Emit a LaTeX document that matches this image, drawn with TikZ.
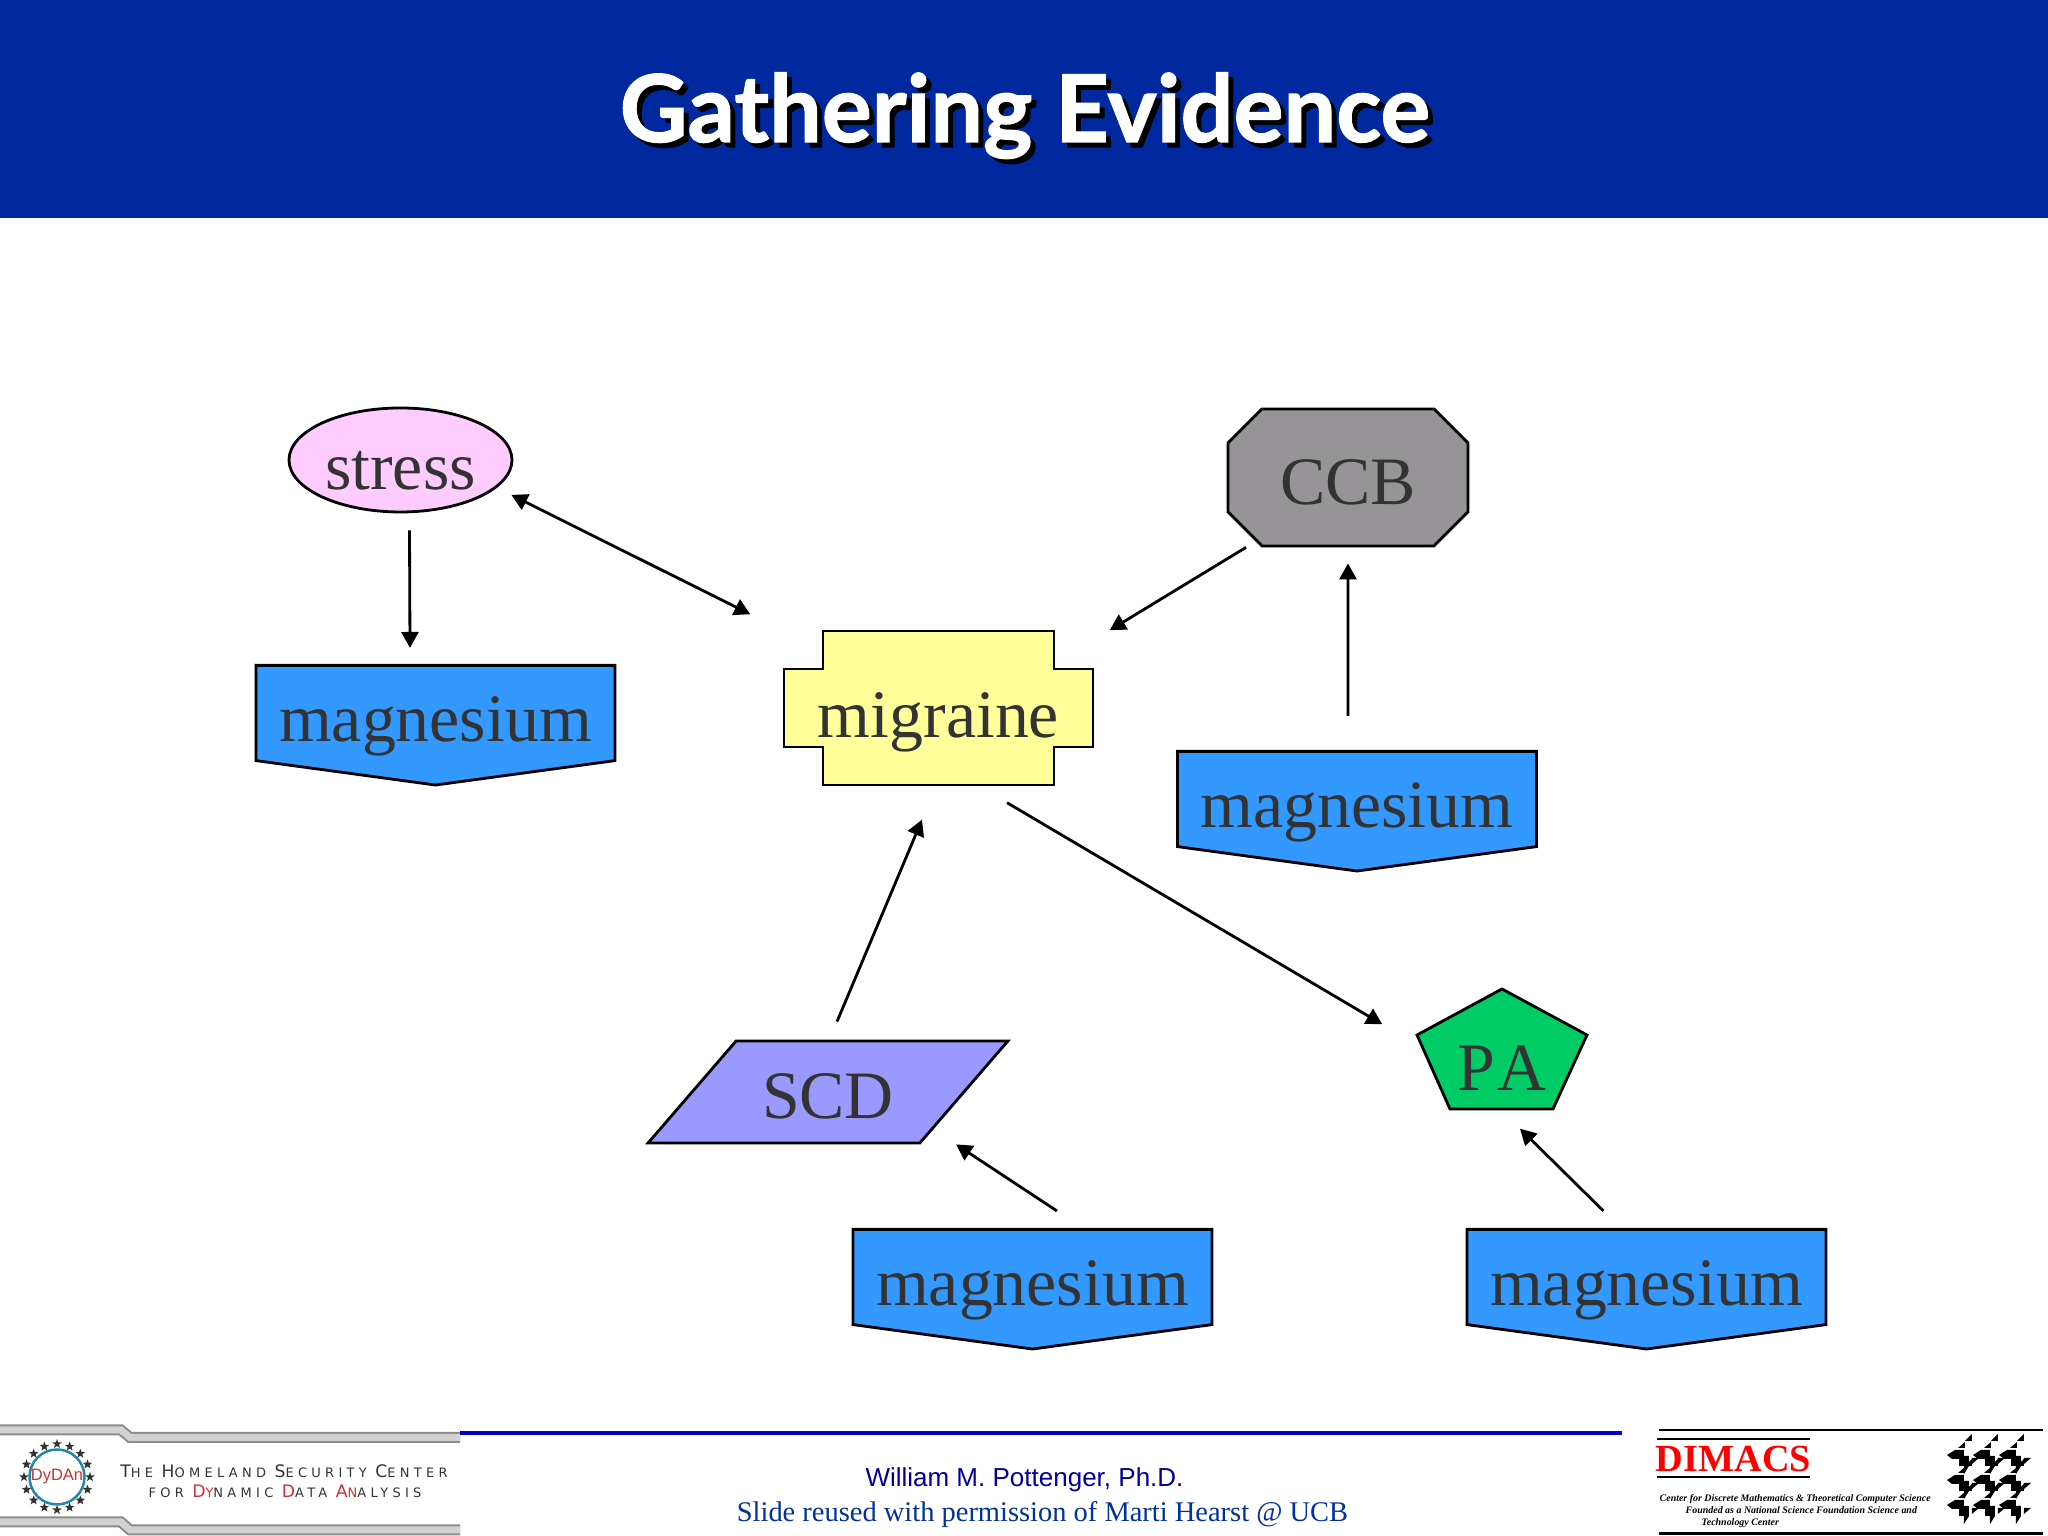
\documentclass[tikz,border=0pt]{standalone}
\usepackage{fontspec}
\setmainfont{Liberation Serif}
\setsansfont{Liberation Sans}
\newfontfamily\titlefont[FakeBold=1.2]{Lato}
\newfontfamily\logofont[LetterSpace=33]{DejaVu Sans}
\usepackage{tikz}
\usetikzlibrary{shapes.geometric, shapes.misc, shapes.symbols, arrows.meta, positioning, calc}
\definecolor{HeaderBlue}{HTML}{0029A0}
\definecolor{MagBlue}{HTML}{3399FF}
\definecolor{StressPink}{HTML}{FFCCFF}
\definecolor{MigraineYellow}{HTML}{FFFF99}
\definecolor{CcbGray}{HTML}{969496}
\definecolor{ScdLilac}{HTML}{9999FF}
\definecolor{PaGreen}{HTML}{00CC66}
\definecolor{LabelGray}{HTML}{333333}
\definecolor{FooterBlue}{HTML}{000099}
\definecolor{SlideBlue}{HTML}{003399}
\definecolor{LineBlue}{HTML}{0000CC}
\definecolor{DydanRed}{HTML}{CC3333}
\definecolor{DydanTeal}{HTML}{2288AA}
\newcommand{\titleshadow}[1]{\makebox[0pt][l]{\hspace{.05cm}\raisebox{-.05cm}{\color{black}#1}}#1}
\newcommand{\bigc}[1]{{\fontsize{4.9}{5.5}\selectfont #1}}
\tikzset{
  label font/.style={font=\fontsize{19.3}{22}\selectfont, text=LabelGray, inner sep=0pt},
  shapeline/.style={draw=black, line width=0.8pt},
  magbox/.style={signal, signal to=south, signal from=nowhere, signal pointer angle=164.5, shapeline, fill=MagBlue, label font, minimum width=3.59cm, minimum height=1.165cm, anchor=north, text height=.615cm, text depth=.035cm},
  stressnode/.style={ellipse, shapeline, fill=StressPink, label font, minimum width=2.23cm, minimum height=1.04cm, text height=.59cm, text depth=0pt},
  ccbnode/.style={chamfered rectangle, chamfered rectangle xsep=.17cm, chamfered rectangle ysep=.17cm, shapeline, fill=CcbGray, label font, minimum width=2.4cm, minimum height=1.37cm, text height=.55cm, text depth=0pt},
  scdnode/.style={trapezium, trapezium left angle=40.5, trapezium right angle=139.5, trapezium stretches=true, shapeline, fill=ScdLilac, label font, minimum width=3.6cm, minimum height=1.02cm, text height=.54cm, text depth=0pt},
  arrow/.style={-{Triangle[length=.16cm,width=.17cm]}, line width=0.8pt, black},
  bothways/.style={{Triangle[length=.16cm,width=.17cm]}-{Triangle[length=.16cm,width=.17cm]}, line width=0.8pt, black},
  band/.style={draw=gray!90, line width=.02cm, double=gray!35, double distance=.07cm},
  smalltext/.style={font=\fontsize{2.83}{3.4}\selectfont\bfseries\itshape, anchor=base west, inner sep=0pt}
}

\begin{document}
\begin{tikzpicture}
  \useasboundingbox (0,0) rectangle (20.48,15.36);
  \fill[white] (0,0) rectangle (20.48,15.36);

  % header
  \fill[HeaderBlue] (0,13.18) rectangle (20.48,15.36);
  \node[anchor=base, inner sep=0pt, text=white, font=\titlefont\bfseries\fontsize{26.6}{30}\selectfont] (title) at (10.25,13.94) {\titleshadow{Gathering Evidence}};

  % the two shapes without a ready node shape
  \draw[shapeline, fill=MigraineYellow] (8.23,9.05) -- (10.54,9.05) -- (10.54,8.67) -- (10.93,8.67) -- (10.93,7.89) -- (10.54,7.89) -- (10.54,7.51) -- (8.23,7.51) -- (8.23,7.89) -- (7.84,7.89) -- (7.84,8.67) -- (8.23,8.67) -- cycle;
  \draw[shapeline, fill=PaGreen] (15.02,5.47) -- (15.87,5.01) -- (15.53,4.27) -- (14.50,4.27) -- (14.17,5.01) -- cycle;

  \node[label font, minimum width=3.09cm, text height=1.065cm, text depth=.475cm] (migraine) at (9.385,8.28) {migraine};
  \node[label font, minimum width=1.7cm, text height=1.02cm, text depth=.18cm] (pa) at (15.02,4.87) {P\kern.025cm A};
  \node[stressnode] (stress) at (4.005,10.76) {stress};
  \node[ccbnode] (ccb) at (13.48,10.585) {CCB};
  \node[scdnode] (scd) at (8.28,4.44) {SCD};
  \node[magbox] (mag1) at (4.355,8.72) {magnesium};
  \node[magbox] (mag2) at (13.57,7.86) {magnesium};
  \node[magbox] (mag3) at (10.325,3.08) {magnesium};
  \node[magbox] (mag4) at (16.465,3.08) {magnesium};

  \draw[arrow] ($(stress.south)+(.09,-.17)$) -- ($(mag1.north)+(-.255,.16)$);
  \draw[bothways] ($(stress.east)+(-.02,-.35)$) -- ($(migraine.north west)+(-.33,.16)$);
  \draw[arrow] ($(ccb.south)+(-1.02,0)$) -- ($(migraine.north east)+(.16,0)$);
  \draw[arrow] ($(mag2.north)+(-.09,.34)$) -- ($(ccb.south)+(0,-.16)$);
  \draw[arrow] ($(scd.north)+(.09,.18)$) -- ($(migraine.south)+(-.165,-.34)$);
  \draw[arrow] ($(migraine.south)+(.685,-.17)$) -- ($(pa.north west)+(-.34,-.36)$);
  \draw[arrow] ($(mag3.north)+(.245,.17)$) -- ($(scd.south)+(1.28,0)$);
  \draw[arrow] ($(mag4.north)+(-.43,.17)$) -- ($(pa.south)+(.18,-.19)$);

  % footer, left logo
  \foreach \y/\z in {1.06/0.985, 0.14/0.06} {
    \draw[band] (0,\y) -- (1.21,\y) -- (1.30,\z) -- (4.60,\z);
  }
  \node[circle, draw=DydanTeal, line width=.025cm, minimum size=.55cm, inner sep=0pt, text=DydanRed, font=\sffamily\fontsize{4.7}{5}\selectfont] (dydan) at (.57,.59) {DyDAn};
  \foreach \a in {0,...,15} {
    \node[star, fill=LabelGray, star points=5, star point ratio=2.4, minimum size=.1cm, inner sep=0pt] (dstar\a) at ($(dydan)+({\a*22.5}:.33)$) {};
  }
  \node[anchor=base, inner sep=0pt, text=LabelGray, font=\logofont\fontsize{3.7}{4}\selectfont] (dhs1) at (2.84,.58) {\bigc{T}HE \bigc{H}OMELAND \bigc{S}ECURITY \bigc{C}ENTER};
  \node[anchor=base, inner sep=0pt, text=LabelGray, font=\logofont\fontsize{3.7}{4}\selectfont] (dhs2) at (2.85,.38) {FOR \textcolor{DydanRed}{\bigc{D}Y}NAMIC \textcolor{DydanRed}{\bigc{D}}ATA \textcolor{DydanRed}{\bigc{A}N}ALYSIS};

  % footer, middle
  \draw[LineBlue, line width=.04cm] (4.60,1.03) -- (16.22,1.03);
  \node[anchor=base, inner sep=0pt, text=FooterBlue, font=\sffamily\fontsize{7.4}{9}\selectfont] (author) at (10.245,.495) {William M. Pottenger, Ph.D.};
  \node[anchor=base, inner sep=0pt, text=SlideBlue, font=\fontsize{8.1}{10}\selectfont] (reuse) at (10.425,.145) {Slide reused with permission of Marti Hearst @ UCB};

  % footer, right logo
  \draw[black, line width=.025cm] (16.59,1.06) -- ++(3.84,0);
  \draw[black, line width=.03cm] (16.59,.02) -- ++(3.84,0);
  \draw[black, line width=.02cm] (16.57,.97) -- ++(1.53,0);
  \draw[black, line width=.02cm] (16.57,.59) -- ++(1.53,0);
  \node[anchor=base, inner sep=0pt, text=red, font=\bfseries\fontsize{10.9}{12}\selectfont] (dimacs) at (17.335,.64) {DIMACS};
  \node[smalltext] (dim1) at (16.59,.34) {Center for Discrete Mathematics \& Theoretical Computer Science};
  \node[smalltext] (dim2) at (16.85,.22) {Founded as a National Science Foundation Science and};
  \node[smalltext] (dim3) at (17.01,.10) {Technology Center};
  \foreach \i in {0,1,2} \foreach \j in {0,1,2} {
    \begin{scope}[shift={(19.47+\i*.26,1.03-\j*.25)}, x=.01cm, y=-.01cm]
      \fill[black] (25,1) -- (25,8) -- (18,8) -- cycle;
      \fill[black] (18,9) -- (18,15) -- (11,15) -- cycle;
      \fill[black] (0,22) -- (8,17) -- (17,17) -- (17,23) -- (22,23) -- (22,33) -- (17,41) -- (17,33) -- (12,33) -- (12,26) -- (5,26) -- cycle;
      \fill[black] (25,25) -- (32,25) -- (25,31) -- cycle;
    \end{scope}
  }
\end{tikzpicture}
\end{document}
